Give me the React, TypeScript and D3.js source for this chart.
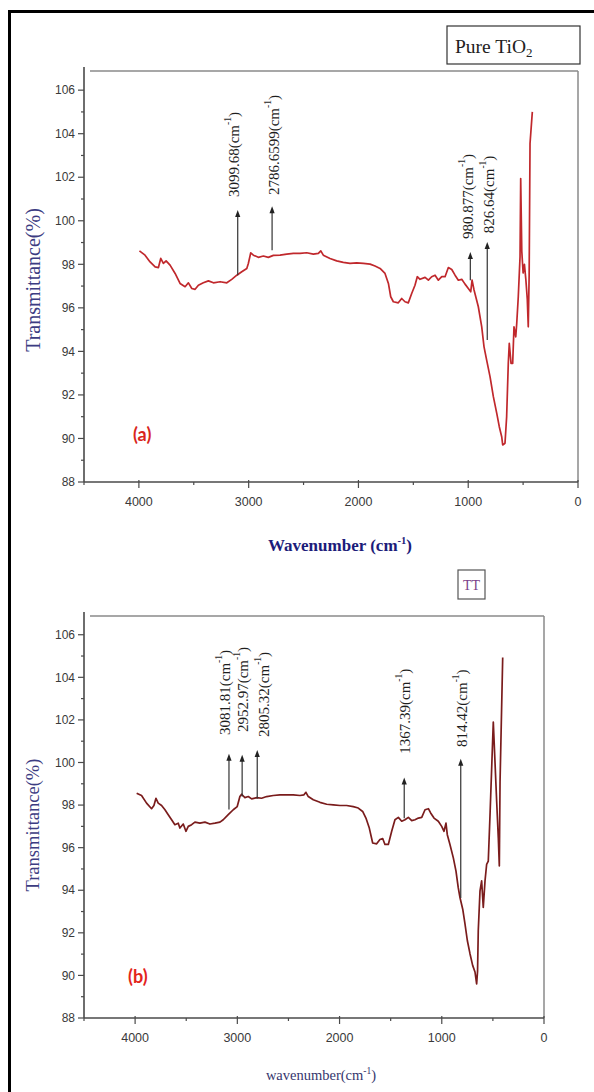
import React from 'react';
import * as d3 from 'd3';

// ---------- data ----------
const xTicksMajor = [4000, 3000, 2000, 1000, 0];
const xTicksMinor = [4500, 3500, 2500, 1500, 500];
const yTicksMajor = [88, 90, 92, 94, 96, 98, 100, 102, 104, 106];
const yTicksMinor = [89, 91, 93, 95, 97, 99, 101, 103, 105];

// Pure TiO2 spectrum: [wavenumber, transmittance]
const spectrumA: [number, number][] = [
  [3995, 98.62], [3944, 98.42], [3898, 98.11], [3852, 97.88], [3822, 97.85], [3801, 98.27], [3777, 98.04],
  [3752, 98.16], [3716, 97.96], [3670, 97.58], [3625, 97.12], [3579, 96.97], [3549, 97.15], [3518, 96.89],
  [3488, 96.85], [3458, 97.04], [3413, 97.15], [3367, 97.24], [3321, 97.15], [3260, 97.2], [3199, 97.15],
  [3154, 97.31], [3108, 97.5], [3063, 97.66], [3017, 97.81], [3003, 98.04], [2981, 98.53], [2957, 98.42],
  [2912, 98.32], [2866, 98.38], [2821, 98.32], [2775, 98.41], [2714, 98.42], [2653, 98.47], [2593, 98.5],
  [2532, 98.5], [2471, 98.53], [2411, 98.47], [2365, 98.5], [2343, 98.62], [2320, 98.42], [2259, 98.27],
  [2198, 98.16], [2138, 98.09], [2077, 98.04], [2016, 98.07], [1955, 98.04], [1894, 98.01], [1849, 97.92],
  [1803, 97.81], [1758, 97.58], [1727, 97.12], [1706, 96.51], [1682, 96.28], [1637, 96.23], [1606, 96.43],
  [1576, 96.28], [1546, 96.23], [1515, 96.66], [1485, 97.04], [1464, 97.43], [1439, 97.31], [1393, 97.4],
  [1363, 97.27], [1333, 97.43], [1302, 97.5], [1272, 97.27], [1241, 97.43], [1211, 97.43], [1181, 97.85],
  [1150, 97.76], [1120, 97.5], [1090, 97.27], [1059, 97.31], [1029, 97.09], [999, 96.89], [977, 96.74],
  [965, 97.27], [947, 96.82], [908, 96.05], [877, 95.13], [856, 94.21], [832, 93.6], [801, 92.83],
  [771, 91.92], [740, 91.15], [717, 90.54], [695, 90.08], [686, 89.7], [665, 89.78], [650, 91.0],
  [635, 93.45], [626, 94.37], [610, 93.45], [595, 93.45], [583, 95.13], [567, 94.67], [558, 95.29],
  [544, 96.51], [528, 98.34], [522, 101.94], [512, 98.6], [500, 97.6], [488, 98.0], [475, 97.3],
  [462, 96.4], [453, 95.13], [445, 97.5], [437, 103.55], [416, 105.0],
];

// TT spectrum
const spectrumB: [number, number][] = [
  [3985, 98.56], [3937, 98.45], [3888, 98.09], [3839, 97.83], [3816, 97.98], [3796, 98.32], [3774, 98.09],
  [3741, 97.98], [3708, 97.78], [3676, 97.55], [3643, 97.31], [3611, 97.08], [3578, 97.15], [3562, 96.92],
  [3529, 97.11], [3503, 96.77], [3480, 97.0], [3447, 97.08], [3415, 97.2], [3366, 97.15], [3317, 97.2],
  [3268, 97.11], [3219, 97.15], [3170, 97.2], [3138, 97.31], [3089, 97.55], [3040, 97.78], [3001, 97.93],
  [2975, 98.4], [2958, 98.51], [2926, 98.35], [2893, 98.4], [2860, 98.29], [2811, 98.35], [2763, 98.32],
  [2713, 98.4], [2649, 98.45], [2583, 98.48], [2518, 98.48], [2453, 98.48], [2387, 98.45], [2348, 98.48],
  [2329, 98.6], [2306, 98.4], [2257, 98.25], [2192, 98.13], [2126, 98.04], [2061, 98.01], [1996, 97.98],
  [1931, 97.98], [1866, 97.93], [1817, 97.86], [1774, 97.7], [1742, 97.39], [1709, 96.92], [1676, 96.22],
  [1637, 96.18], [1605, 96.38], [1578, 96.43], [1556, 96.15], [1523, 96.15], [1490, 96.77], [1458, 97.31],
  [1425, 97.42], [1392, 97.24], [1360, 97.31], [1327, 97.42], [1294, 97.27], [1262, 97.31], [1229, 97.39],
  [1196, 97.42], [1164, 97.78], [1131, 97.83], [1109, 97.63], [1076, 97.39], [1034, 97.24], [1001, 97.0],
  [978, 96.77], [959, 97.15], [946, 96.61], [920, 96.15], [887, 95.52], [861, 94.9], [839, 94.12],
  [822, 93.66], [795, 93.11], [773, 92.42], [750, 91.64], [724, 91.02], [698, 90.47], [675, 90.16],
  [659, 89.6], [650, 90.2], [643, 92.1], [626, 93.97], [610, 94.44], [594, 93.19], [577, 94.44],
  [561, 95.22], [545, 95.37], [528, 97.55], [496, 101.9], [463, 98.17], [447, 96.46], [437, 95.14],
  [430, 99.1], [404, 104.93],
];

// peak annotations: wavenumber, label, arrow base T, arrow tip T, label start T, label centre wavenumber
const peaksA = [
  { wn: 3099.68, label: '3099.68', from: 97.5, to: 100.49, text: 101.09, textWn: 3135 },
  { wn: 2786.6599, label: '2786.6599', from: 98.65, to: 100.67, text: 101.18, textWn: 2765 },
  { wn: 980.877, label: '980.877', from: 97.27, to: 98.56, text: 99.16, textWn: 1005 },
  { wn: 826.64, label: '826.64', from: 94.52, to: 99.02, text: 99.43, textWn: 815 },
];
const peaksB = [
  { wn: 3081.81, label: '3081.81', from: 97.79, to: 100.41, text: 101.29, textWn: 3125 },
  { wn: 2952.97, label: '2952.97', from: 98.4, to: 100.36, text: 101.43, textWn: 2940 },
  { wn: 2805.32, label: '2805.32', from: 98.31, to: 100.59, text: 101.2, textWn: 2735 },
  { wn: 1367.39, label: '1367.39', from: 97.38, to: 99.29, text: 100.41, textWn: 1360 },
  { wn: 814.42, label: '814.42', from: 93.64, to: 100.17, text: 100.73, textWn: 800 },
];

const SERIF = '"Liberation Serif", "DejaVu Serif", serif';
const SANS = '"Liberation Sans", Arial, sans-serif';

type PanelProps = {
  data: [number, number][];
  peaks: typeof peaksA;
  left: number; right: number; top: number; bottom: number;
  color: string;
  tag: string; tagColor: string; tagPos: [number, number];
};

function Panel({ data, peaks, left, right, top, bottom, color, tag, tagColor, tagPos }: PanelProps) {
  const x = d3.scaleLinear().domain([4500, 0]).range([left, right]);
  const y = d3.scaleLinear().domain([88, 106.88]).range([bottom, top]);
  const line = d3.line<[number, number]>().x(d => x(d[0])).y(d => y(d[1]));
  const axisCol = '#4a4a4a';
  return (
    <g>
      <line x1={left + 6} x2={right} y1={top} y2={top} stroke="#8a8a8a" strokeWidth={1.5} />
      <line x1={right} x2={right} y1={top} y2={bottom} stroke="#8a8a8a" strokeWidth={1.5} />
      <line x1={left} x2={left} y1={top - 4} y2={bottom} stroke={axisCol} strokeWidth={1.6} />
      <line x1={left} x2={right} y1={bottom} y2={bottom} stroke={axisCol} strokeWidth={1.6} />
      {yTicksMajor.map(t => (
        <g key={'ym' + t}>
          <line x1={left - 6} x2={left} y1={y(t)} y2={y(t)} stroke={axisCol} strokeWidth={1.2} />
          <text x={left - 9} y={y(t)} dy="0.35em" textAnchor="end" fontFamily={SANS} fontSize={12} fill="#3a3a3a">{t}</text>
        </g>
      ))}
      {yTicksMinor.map(t => (
        <line key={'yn' + t} x1={left - 3} x2={left} y1={y(t)} y2={y(t)} stroke={axisCol} strokeWidth={1.2} />
      ))}
      {xTicksMajor.map(t => (
        <g key={'xm' + t}>
          <line x1={x(t)} x2={x(t)} y1={bottom - 2} y2={bottom + 6} stroke={axisCol} strokeWidth={1.2} />
          <text x={x(t)} y={bottom + 24} textAnchor="middle" fontFamily={SANS} fontSize={12.5} fill="#3a3a3a">{t}</text>
        </g>
      ))}
      {xTicksMinor.map(t => (
        <line key={'xn' + t} x1={x(t)} x2={x(t)} y1={bottom} y2={bottom + 3} stroke={axisCol} strokeWidth={1.2} />
      ))}
      <path d={line(data) || ''} fill="none" stroke={color} strokeWidth={1.7} strokeLinejoin="round" />
      {peaks.map(p => {
        const px = x(p.wn);
        const tip = y(p.to);
        return (
          <g key={p.label}>
            <line x1={px} x2={px} y1={y(p.from)} y2={tip + 5} stroke="#333" strokeWidth={1.2} />
            <path d={`M${px},${tip} L${px - 2.6},${tip + 7} L${px + 2.6},${tip + 7} Z`} fill="#222" />
            <text transform={`translate(${x(p.textWn)},${y(p.text)}) rotate(-90)`} dominantBaseline="central"
              fontFamily={SERIF} fontSize={15} fill="#1e1e1e">
              {p.label}(cm<tspan fontSize={9.5} dy={-6}>-1</tspan><tspan dy={6}>)</tspan>
            </text>
          </g>
        );
      })}
      <text x={tagPos[0]} y={tagPos[1]} dy="0.35em" fontFamily='Lato, "Open Sans", sans-serif' fontWeight="bold"
        fontSize={18} fill={tagColor}>{tag}</text>
    </g>
  );
}

export default function App() {
  return (
    <svg width={594} height={1092} style={{ position: 'absolute', left: 0, top: 0, background: '#fff' }}>
      <rect x={0} y={0} width={594} height={1092} fill="#fff" />
      <path d="M9.5,1092 V11.5 H594" fill="none" stroke="#000" strokeWidth={3} />

      <rect x={447} y={26} width={133} height={38} fill="#fff" stroke="#333" strokeWidth={1.2} />
      <text x={455} y={53} fontFamily={SERIF} fontSize={19.5} fill="#222">
        Pure TiO<tspan fontSize={13} dy={4}>2</tspan>
      </text>
      <rect x={458} y={570} width={27} height={29} fill="#fff" stroke="#555" strokeWidth={1.2} />
      <text x={471.5} y={590} textAnchor="middle" fontFamily={SERIF} fontSize={14} fill="#7b3f8a">TT</text>

      <Panel data={spectrumA} peaks={peaksA} left={84} right={578} top={71} bottom={482}
        color="#c0282c" tag="(a)" tagColor="#d9261c" tagPos={[133, 435]} />
      <Panel data={spectrumB} peaks={peaksB} left={84} right={544} top={616} bottom={1018}
        color="#7a1c1c" tag="(b)" tagColor="#e3241c" tagPos={[128, 977]} />

      <text transform="translate(33,280) rotate(-90)" textAnchor="middle" dominantBaseline="central"
        fontFamily={SERIF} fontSize={20} fill="#3c3c82">Transmittance(%)</text>
      <text transform="translate(33,825) rotate(-90)" textAnchor="middle" dominantBaseline="central"
        fontFamily={SERIF} fontSize={18.5} fill="#3c3c82">Transmittance(%)</text>
      <text x={340} y={551} textAnchor="middle" fontFamily={SERIF} fontWeight="bold" fontSize={17} fill="#1c1c7a">
        Wavenumber (cm<tspan fontSize={10.5} dy={-7}>-1</tspan><tspan dy={7}>)</tspan>
      </text>
      <text x={321} y={1080} textAnchor="middle" fontFamily={SERIF} fontSize={14.5} fill="#36366e">
        wavenumber(cm<tspan fontSize={9.5} dy={-6}>-1</tspan><tspan dy={6}>)</tspan>
      </text>
    </svg>
  );
}
